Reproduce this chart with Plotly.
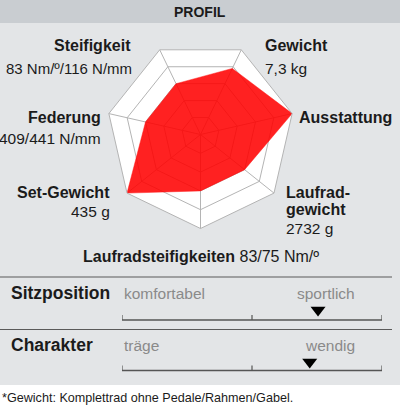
import plotly.graph_objects as go

# ---- data ----
axes_labels = ["Laufradsteifigkeiten", "Laufradgewicht", "Ausstattung", "Gewicht",
               "Steifigkeit", "Federung", "Set-Gewicht"]
scores = [0.6, 0.6, 1.0, 0.78, 0.6, 0.6, 1.0]
ring_ticks = [0.2, 0.4, 0.6, 0.8, 1.0]

scale_names = ["Sitzposition", "Charakter"]
scale_left = ["komfortabel", "träge"]
scale_right = ["sportlich", "wendig"]
scale_values = [0.754, 0.722]

W, H = 400, 411
def px(x):
    return x / W
def py(y):
    return 1 - y / H

FONT = "Liberation Sans"
DARK = "#1b1b1b"
GREY_TXT = "#8a8a8a"

fig = go.Figure()

fig.add_trace(go.Scatterpolar(
    r=scores + [scores[0]],
    theta=axes_labels + [axes_labels[0]],
    mode="lines",
    fill="toself",
    fillcolor="rgba(255,0,0,0.87)",
    line=dict(color="rgba(255,20,20,0.9)", width=0.5),
    hoverinfo="skip",
    showlegend=False,
))

# slider markers
row_y = [310, 362]
fig.add_trace(go.Scatter(
    x=scale_values, y=row_y, mode="markers",
    marker=dict(symbol="triangle-down", size=13, color="black", line=dict(width=0)),
    xaxis="x", yaxis="y", showlegend=False, hoverinfo="skip",
))

cx, cy, R = 200.5, 134.5, 94
fig.update_layout(
    width=W, height=H,
    margin=dict(l=0, r=0, t=0, b=0),
    paper_bgcolor="white",
    plot_bgcolor="rgba(0,0,0,0)",
    polar=dict(
        domain=dict(x=[px(cx - R), px(cx + R)], y=[py(cy + R), py(cy - R)]),
        bgcolor="white",
        gridshape="linear",
        angularaxis=dict(
            rotation=-90, direction="counterclockwise",
            showticklabels=False, ticks="",
            gridcolor="#b4b4b4", gridwidth=1,
            linecolor="#b4b4b4", linewidth=1,
        ),
        radialaxis=dict(
            range=[0, 1], tickvals=ring_ticks,
            showticklabels=False, ticks="", showline=False,
            gridcolor="#b4b4b4", gridwidth=1,
        ),
    ),
    xaxis=dict(domain=[px(122), px(382)], range=[0, 1], visible=False, fixedrange=True),
    yaxis=dict(domain=[0, 1], range=[H, 0], visible=False, fixedrange=True),
)

shapes = []
# header bar and body background
shapes.append(dict(type="rect", xref="paper", yref="paper", x0=0, x1=1, y0=py(23), y1=1,
                   fillcolor="#c9cdd1", line=dict(width=0), layer="below"))
shapes.append(dict(type="rect", xref="paper", yref="paper", x0=0, x1=1, y0=py(385), y1=py(23),
                   fillcolor="#e3e5e7", line=dict(width=0), layer="below"))
# separator lines
for y in [277, 329.5]:
    shapes.append(dict(type="line", xref="paper", yref="paper", x0=0, x1=px(392), y0=py(y), y1=py(y),
                       line=dict(color="#5a5a5a", width=1.2)))
# scale brackets
for yb in [320, 370.5]:
    shapes.append(dict(type="line", xref="x", yref="y", x0=0, x1=1, y0=yb, y1=yb,
                       line=dict(color="#555555", width=1.4)))
    for xt in [0, 0.5, 1]:
        shapes.append(dict(type="line", xref="x", yref="y", x0=xt, x1=xt, y0=yb, y1=yb - 5,
                           line=dict(color="#555555", width=1.2)))
fig.update_layout(shapes=shapes)

ann = []
def text(x, y, s, size, color=DARK, anchor="left", bold=False):
    ann.append(dict(x=px(x), y=py(y), xref="paper", yref="paper", text=(f"<b>{s}</b>" if bold else s),
                    showarrow=False, xanchor=anchor, yanchor="middle",
                    font=dict(family=FONT, size=size, color=color)))

text(200, 12, "PROFIL", 14, bold=True, anchor="center")
# radar labels
text(133, 46, "Steifigkeit", 16, bold=True, anchor="right")
text(134, 68, "83 Nm/º/116 N/mm", 15, anchor="right")
text(263, 46, "Gewicht", 16, bold=True)
text(263, 68, "7,3 kg", 15.5)
text(297, 117, "Ausstattung", 16, bold=True)
text(103, 117, "Federung", 16, bold=True, anchor="right")
text(103, 138, "409/441 N/mm", 15.5, anchor="right")
text(112, 192, "Set-Gewicht", 16, bold=True, anchor="right")
text(112, 211, "435 g", 15.5, anchor="right")
text(284, 192, "Laufrad-", 16, bold=True)
text(284, 209, "gewicht", 16, bold=True)
text(284, 228, "2732 g", 15.5)
text(201, 256, "<b>Laufradsteifigkeiten</b> 83/75 Nm/º", 16, anchor="center")
# scales
name_y = [293, 345]
for i in range(len(scale_names)):
    text(9, name_y[i], scale_names[i], 17.5, bold=True)
    text(122, name_y[i], scale_left[i], 15.5, color=GREY_TXT)
    text(357, name_y[i], scale_right[i], 15.5, color=GREY_TXT, anchor="right")
# footnote
text(0, 398, "*Gewicht: Komplettrad ohne Pedale/Rahmen/Gabel.", 12.6)
fig.update_layout(annotations=ann)

fig.write_html("out.html",
               config={"displayModeBar": False, "staticPlot": True},
               post_script="document.body.style.margin='0';document.body.style.overflow='hidden';")
